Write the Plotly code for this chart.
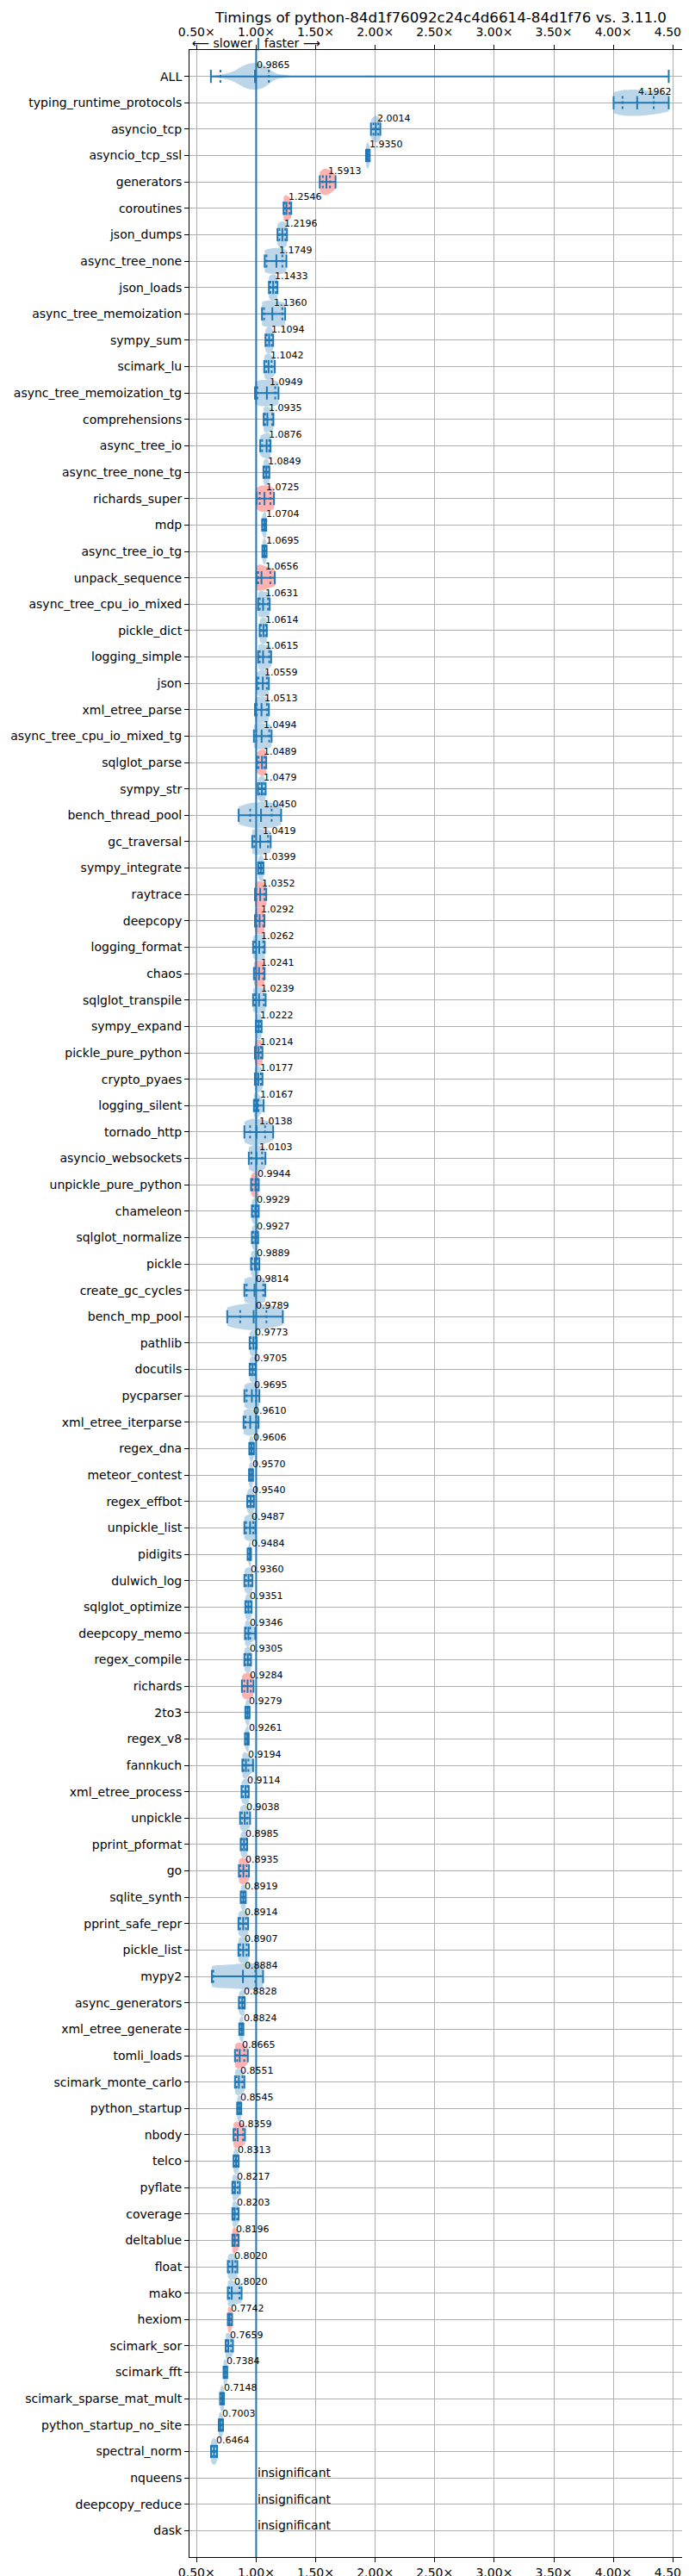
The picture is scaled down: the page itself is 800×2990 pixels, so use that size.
import plotly.graph_objects as go

TITLE = "Timings of python-84d1f76092c24c4d6614-84d1f76 vs. 3.11.0"

NAMES = [
    "ALL", "typing_runtime_protocols", "asyncio_tcp", "asyncio_tcp_ssl", "generators",
    "coroutines", "json_dumps", "async_tree_none", "json_loads", "async_tree_memoization",
    "sympy_sum", "scimark_lu", "async_tree_memoization_tg", "comprehensions", "async_tree_io",
    "async_tree_none_tg", "richards_super", "mdp", "async_tree_io_tg", "unpack_sequence",
    "async_tree_cpu_io_mixed", "pickle_dict", "logging_simple", "json", "xml_etree_parse",
    "async_tree_cpu_io_mixed_tg", "sqlglot_parse", "sympy_str", "bench_thread_pool", "gc_traversal",
    "sympy_integrate", "raytrace", "deepcopy", "logging_format", "chaos",
    "sqlglot_transpile", "sympy_expand", "pickle_pure_python", "crypto_pyaes", "logging_silent",
    "tornado_http", "asyncio_websockets", "unpickle_pure_python", "chameleon", "sqlglot_normalize",
    "pickle", "create_gc_cycles", "bench_mp_pool", "pathlib", "docutils",
    "pycparser", "xml_etree_iterparse", "regex_dna", "meteor_contest", "regex_effbot",
    "unpickle_list", "pidigits", "dulwich_log", "sqlglot_optimize", "deepcopy_memo",
    "regex_compile", "richards", "2to3", "regex_v8", "fannkuch",
    "xml_etree_process", "unpickle", "pprint_pformat", "go", "sqlite_synth",
    "pprint_safe_repr", "pickle_list", "mypy2", "async_generators", "xml_etree_generate",
    "tomli_loads", "scimark_monte_carlo", "python_startup", "nbody", "telco",
    "pyflate", "coverage", "deltablue", "float", "mako",
    "hexiom", "scimark_sor", "scimark_fft", "scimark_sparse_mat_mult", "python_startup_no_site",
    "spectral_norm", "nqueens", "deepcopy_reduce", "dask",
]

# value printed next to each violin (None -> "insignificant")
LABELS = [
    0.9865, 4.1962, 2.0014, 1.9350, 1.5913,
    1.2546, 1.2196, 1.1749, 1.1433, 1.1360,
    1.1094, 1.1042, 1.0949, 1.0935, 1.0876,
    1.0849, 1.0725, 1.0704, 1.0695, 1.0656,
    1.0631, 1.0614, 1.0615, 1.0559, 1.0513,
    1.0494, 1.0489, 1.0479, 1.0450, 1.0419,
    1.0399, 1.0352, 1.0292, 1.0262, 1.0241,
    1.0239, 1.0222, 1.0214, 1.0177, 1.0167,
    1.0138, 1.0103, 0.9944, 0.9929, 0.9927,
    0.9889, 0.9814, 0.9789, 0.9773, 0.9705,
    0.9695, 0.9610, 0.9606, 0.9570, 0.9540,
    0.9487, 0.9484, 0.9360, 0.9351, 0.9346,
    0.9305, 0.9284, 0.9279, 0.9261, 0.9194,
    0.9114, 0.9038, 0.8985, 0.8935, 0.8919,
    0.8914, 0.8907, 0.8884, 0.8828, 0.8824,
    0.8665, 0.8551, 0.8545, 0.8359, 0.8313,
    0.8217, 0.8203, 0.8196, 0.8020, 0.8020,
    0.7742, 0.7659, 0.7384, 0.7148, 0.7003,
    0.6464, None, None, None,
]

MINS = [
    0.620, 4.002, 1.964, 1.923, 1.534,
    1.230, 1.179, 1.072, 1.107, 1.049,
    1.078, 1.068, 0.990, 1.063, 1.034,
    1.061, 1.003, 1.050, 1.052, 1.003,
    1.017, 1.029, 1.017, 1.005, 0.990,
    0.981, 1.005, 1.015, 0.853, 0.967,
    1.017, 0.990, 0.990, 0.974, 0.981,
    0.974, 0.998, 0.989, 0.989, 0.981,
    0.901, 0.938, 0.957, 0.964, 0.964,
    0.957, 0.901, 0.757, 0.945, 0.945,
    0.901, 0.894, 0.942, 0.940, 0.925,
    0.901, 0.928, 0.901, 0.909, 0.906,
    0.901, 0.880, 0.909, 0.906, 0.884,
    0.877, 0.865, 0.870, 0.855, 0.870,
    0.851, 0.851, 0.628, 0.855, 0.858,
    0.822, 0.822, 0.840, 0.810, 0.810,
    0.800, 0.800, 0.800, 0.762, 0.762,
    0.762, 0.744, 0.726, 0.697, 0.686,
    0.621, None, None, None,
]
Q1S = [
    0.700, 4.077, 1.985, 1.930, 1.560,
    1.240, 1.195, 1.087, 1.120, 1.066,
    1.090, 1.085, 1.010, 1.075, 1.050,
    1.070, 1.030, 1.060, 1.062, 1.017,
    1.030, 1.040, 1.030, 1.020, 1.005,
    1.000, 1.020, 1.030, 0.950, 0.985,
    1.028, 1.000, 1.005, 0.990, 0.995,
    0.990, 1.010, 1.000, 1.000, 0.990,
    0.949, 0.960, 0.970, 0.975, 0.975,
    0.965, 0.920, 0.866, 0.955, 0.955,
    0.920, 0.910, 0.952, 0.948, 0.938,
    0.915, 0.940, 0.915, 0.920, 0.915,
    0.912, 0.900, 0.918, 0.914, 0.895,
    0.890, 0.880, 0.880, 0.868, 0.880,
    0.865, 0.865, 0.640, 0.865, 0.868,
    0.840, 0.835, 0.848, 0.825, 0.820,
    0.810, 0.810, 0.810, 0.775, 0.775,
    0.768, 0.752, 0.732, 0.705, 0.693,
    0.632, None, None, None,
]
MEDS = [
    0.990, 4.200, 2.005, 1.937, 1.590,
    1.255, 1.220, 1.170, 1.143, 1.136,
    1.109, 1.104, 1.090, 1.094, 1.088,
    1.085, 1.070, 1.070, 1.070, 1.045,
    1.058, 1.061, 1.058, 1.056, 1.045,
    1.046, 1.049, 1.048, 1.041, 1.034,
    1.040, 1.034, 1.029, 1.026, 1.024,
    1.024, 1.022, 1.021, 1.018, 1.010,
    1.003, 1.003, 0.994, 0.993, 0.993,
    0.989, 0.986, 0.979, 0.977, 0.970,
    0.964, 0.950, 0.960, 0.957, 0.954,
    0.949, 0.948, 0.936, 0.935, 0.935,
    0.930, 0.928, 0.928, 0.926, 0.914,
    0.911, 0.904, 0.898, 0.893, 0.892,
    0.891, 0.891, 0.889, 0.883, 0.878,
    0.862, 0.855, 0.857, 0.845, 0.831,
    0.822, 0.820, 0.820, 0.800, 0.795,
    0.776, 0.766, 0.740, 0.715, 0.702,
    0.646, None, None, None,
]
Q3S = [
    1.107, 4.339, 2.026, 1.945, 1.620,
    1.280, 1.245, 1.220, 1.165, 1.220,
    1.130, 1.130, 1.160, 1.135, 1.110,
    1.100, 1.120, 1.080, 1.078, 1.119,
    1.100, 1.080, 1.110, 1.090, 1.090,
    1.110, 1.070, 1.065, 1.130, 1.100,
    1.052, 1.070, 1.060, 1.060, 1.060,
    1.065, 1.035, 1.040, 1.040, 1.020,
    1.075, 1.050, 1.010, 1.010, 1.008,
    1.010, 1.060, 1.086, 0.995, 0.985,
    1.000, 1.000, 0.970, 0.965, 0.970,
    0.975, 0.952, 0.955, 0.950, 0.950,
    0.945, 0.955, 0.937, 0.932, 0.935,
    0.928, 0.925, 0.915, 0.920, 0.903,
    0.915, 0.920, 0.993, 0.895, 0.886,
    0.900, 0.885, 0.866, 0.890, 0.843,
    0.845, 0.840, 0.840, 0.825, 0.860,
    0.788, 0.790, 0.750, 0.723, 0.712,
    0.660, None, None, None,
]
MAXS = [
    4.465, 4.465, 2.043, 1.954, 1.667,
    1.295, 1.259, 1.254, 1.179, 1.244,
    1.143, 1.157, 1.188, 1.145, 1.121,
    1.111, 1.150, 1.085, 1.088, 1.157,
    1.114, 1.090, 1.126, 1.107, 1.107,
    1.130, 1.085, 1.080, 1.210, 1.122,
    1.061, 1.085, 1.070, 1.072, 1.071,
    1.080, 1.046, 1.053, 1.053, 1.063,
    1.143, 1.078, 1.022, 1.022, 1.017,
    1.027, 1.077, 1.224, 1.005, 0.996,
    1.027, 1.020, 0.981, 0.974, 0.981,
    0.994, 0.957, 0.969, 0.962, 0.993,
    0.957, 0.978, 0.945, 0.938, 0.974,
    0.938, 0.949, 0.925, 0.940, 0.913,
    0.933, 0.938, 1.058, 0.904, 0.893,
    0.930, 0.901, 0.875, 0.906, 0.853,
    0.863, 0.853, 0.853, 0.842, 0.878,
    0.798, 0.805, 0.757, 0.730, 0.722,
    0.672, None, None, None,
]

# benchmarks whose violin is drawn in red
RED_NAMES = [
    "generators", "coroutines", "richards_super", "unpack_sequence", "sqlglot_parse",
    "raytrace", "deepcopy", "chaos", "pickle_pure_python", "unpickle_pure_python",
    "richards", "go", "tomli_loads", "nbody", "deltablue", "hexiom",
]

X_TICKS = [0.5, 1.0, 1.5, 2.0, 2.5, 3.0, 3.5, 4.0, 4.5]
X_TICK_TEXT = ["0.50×", "1.00×", "1.50×", "2.00×", "2.50×", "3.00×", "3.50×", "4.00×", "4.50×"]
X_RANGE = [0.44, 4.657]
BASELINE = 1.0

BLUE = "#1f77b4"
BLUE_FILL = "rgba(31,119,180,0.3)"
RED_FILL = "rgba(255,0,0,0.3)"
FONT = "DejaVu Sans"
CAP = 0.25
VWIDTH = 1.0

n = len(NAMES)
POS = list(range(1, n + 1))

fig = go.Figure()


def stats(i):
    return [MINS[i], Q1S[i], MEDS[i], Q3S[i], MAXS[i]]


common = dict(orientation="h", width=VWIDTH, spanmode="hard", points=False,
              line_width=0, box_visible=False, meanline_visible=False,
              hoverinfo="skip", showlegend=False, scalemode="width", side="both")

# ---- violin bodies ----
pool = []
for i in range(1, n):
    if MINS[i] is not None:
        pool += stats(i)
fig.add_trace(go.Violin(x=pool, y=[POS[0]] * len(pool), fillcolor=BLUE_FILL, **common))

for i in range(1, n):
    if MINS[i] is None:
        continue
    vals = stats(i)
    fill = RED_FILL if NAMES[i] in RED_NAMES else BLUE_FILL
    fig.add_trace(go.Violin(x=vals, y=[POS[i]] * len(vals), fillcolor=fill, **common))

# ---- stat lines ----
sx, sy, dx, dy = [], [], [], []
for i in range(n):
    if MINS[i] is None:
        continue
    p = POS[i]
    sx += [MINS[i], MAXS[i], None]
    sy += [p, p, None]
    for v in (MINS[i], MEDS[i], MAXS[i]):
        sx += [v, v, None]
        sy += [p - CAP, p + CAP, None]
    for v in (Q1S[i], Q3S[i]):
        dx += [v, v, None]
        dy += [p - CAP, p + CAP, None]

fig.add_trace(go.Scatter(x=sx, y=sy, mode="lines", line=dict(color=BLUE, width=2),
                         hoverinfo="skip", showlegend=False))
fig.add_trace(go.Scatter(x=dx, y=dy, mode="lines", line=dict(color=BLUE, width=2, dash="dot"),
                         hoverinfo="skip", showlegend=False))

# dummy trace for top axis
fig.add_trace(go.Scatter(x=[X_RANGE[0]], y=[POS[0]], xaxis="x2", mode="markers",
                         marker=dict(opacity=0), hoverinfo="skip", showlegend=False))

fig.add_vline(x=BASELINE, line=dict(color=BLUE, width=2), layer="above")

# ---- labels ----
annotations = []
for i in range(n):
    if LABELS[i] is not None:
        annotations.append(dict(x=LABELS[i], y=POS[i] - 0.42, xref="x", yref="y",
                                text=f"{LABELS[i]:.4f}", showarrow=False,
                                xanchor="left", yanchor="middle",
                                font=dict(size=11, family=FONT, color="black")))
    else:
        annotations.append(dict(x=BASELINE, y=POS[i] - 0.2, xref="x", yref="y",
                                text="insignificant", showarrow=False,
                                xanchor="left", yanchor="middle",
                                font=dict(size=14, family=FONT, color="black")))

annotations.append(dict(x=BASELINE, y=1, xref="x", yref="paper", text="⟵ slower | faster ⟶",
                        showarrow=False, xanchor="center", yanchor="bottom", yshift=-3,
                        font=dict(size=14, family=FONT, color="black")))

axis_common = dict(range=X_RANGE, tickvals=X_TICKS, ticktext=X_TICK_TEXT, ticks="outside",
                   ticklen=5, tickcolor="black", showline=True, linecolor="black",
                   linewidth=1, zeroline=False, tickfont=dict(size=14, family=FONT, color="black"))

fig.update_layout(
    width=800, height=2990,
    margin=dict(l=212, r=4, t=50, b=27),
    plot_bgcolor="white", paper_bgcolor="white",
    violinmode="overlay", violingap=0,
    font=dict(family=FONT, color="black", size=14),
    title=dict(text=TITLE, x=0.63, xanchor="center", y=1 - 12 / 2990, yanchor="middle",
               font=dict(size=16.7, family=FONT, color="black")),
    xaxis=dict(side="bottom", showgrid=True, gridcolor="#b0b0b0", gridwidth=1, **axis_common),
    xaxis2=dict(side="top", overlaying="x", showgrid=False, anchor="y",
                ticklabelstandoff=4, **axis_common),
    yaxis=dict(range=[n + 1, 0], tickvals=POS, ticktext=NAMES, showgrid=True,
               gridcolor="#b0b0b0", gridwidth=1, ticks="outside", ticklen=5, tickcolor="black",
               showline=True, linecolor="black", linewidth=1, mirror=True, zeroline=False,
               tickfont=dict(size=14, family=FONT, color="black")),
    annotations=annotations,
)

fig.write_html("out.html")
